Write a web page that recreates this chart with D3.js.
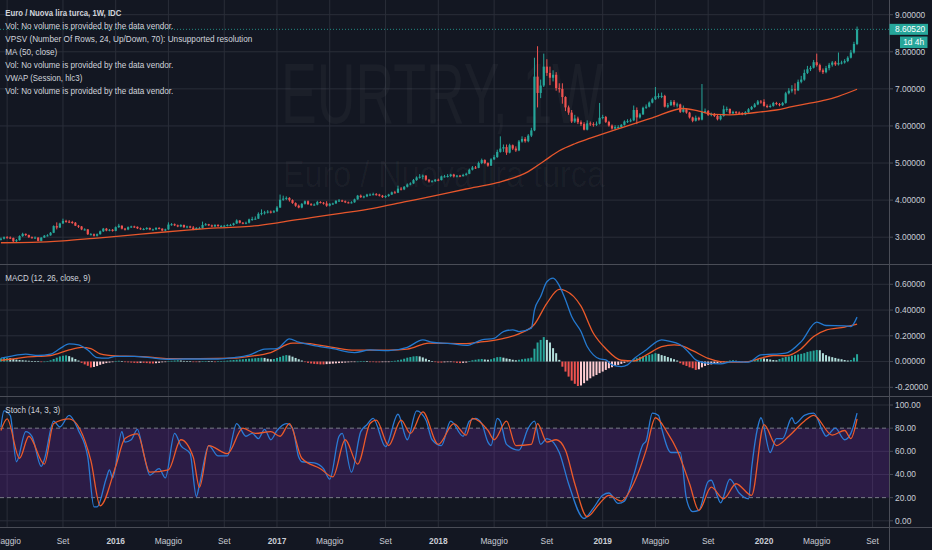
<!DOCTYPE html>
<html><head><meta charset="utf-8">
<script src="https://cdn.jsdelivr.net/npm/d3@7"></script>
<style>html,body{margin:0;padding:0;background:#131722;overflow:hidden}svg{display:block}</style>
</head><body><svg id="chart" width="932" height="550"></svg>
<script>
// ---------------- DATA ----------------
const firstWeek = "2015-04-20";   // Monday of first weekly bar
const firstOpen = 2.93;
const closes = [
// 2015
2.96,3.00,2.99,2.98,2.89,2.92,3.03,3.09,3.06,3.00, 2.99,2.99,2.90,2.99,3.04,3.05,3.12,3.30,3.26,3.37,
3.44,3.42,3.41,3.39,3.31,3.29,3.21,3.21,3.08,3.08, 3.04,3.08,3.16,3.23,3.18,3.20,3.17,
// 2016
3.27,3.31,3.23,3.21,3.27,3.29,3.28,3.24,3.22,3.22, 3.25,3.21,3.21,3.25,3.23,3.18,3.21,3.34,3.35,3.32,
3.29,3.33,3.27,3.29,3.26,3.21,3.25,3.25,3.33,3.35, 3.32,3.29,3.33,3.30,3.30,3.31,3.33,3.33,3.37,3.45,
3.39,3.37,3.39,3.48,3.49,3.50,3.63,3.65,3.67,3.69, 3.67,3.70,
// 2017
3.80,4.01,4.04,4.06,4.00,3.92,3.85,3.80,3.90,3.97, 3.89,3.87,3.88,3.95,3.93,3.91,3.85,3.90,3.91,3.98,
3.99,3.97,3.94,3.93,3.94,4.02,4.12,4.08,4.10,4.15, 4.15,4.16,4.15,4.12,4.08,4.11,4.15,4.21,4.20,4.31,
4.29,4.36,4.42,4.45,4.54,4.61,4.63,4.66,4.55,4.50, 4.51,4.55,
// 2018
4.54,4.64,4.64,4.65,4.69,4.64,4.66,4.65,4.68,4.71, 4.82,4.88,4.87,5.00,5.08,5.00,4.93,5.10,5.16,5.30,
5.39,5.43,5.28,5.48,5.39,5.34,5.58,5.65,5.59,5.74, 5.88,7.33,6.89,7.09,7.60,7.43,7.30,7.38,7.02,7.00,
6.78,6.50,6.36,6.12,6.20,6.10,6.05,5.90,6.07,6.05, 6.04,6.06,
// 2019
6.22,6.24,6.11,6.01,5.93,5.97,5.97,6.03,6.12,6.13, 6.15,6.43,6.23,6.31,6.49,6.52,6.63,6.72,6.80,6.81,
6.81,6.52,6.56,6.65,6.57,6.58,6.38,6.45,6.36,6.23, 6.14,6.22,6.17,6.38,6.40,6.30,6.32,6.27,6.18,6.27,
6.45,6.46,6.34,6.38,6.36,6.35,6.31,6.37,6.45,6.51, 6.58,6.66,6.65,
// 2020
6.54,6.52,6.54,6.62,6.59,6.56,6.62,6.88,6.95,6.99, 6.96,7.19,7.25,7.43,7.53,7.57,7.72,7.64,7.50,7.45,
7.56,7.65,7.71,7.66,7.70,7.71,7.75,7.84,7.98,8.21, 8.6052
];
const highs = [
2.99,3.02,3.03,3.02,2.99,2.95,3.05,3.12,3.10,3.07, 3.02,3.02,3.00,3.00,3.06,3.08,3.14,3.32,3.40,3.39,
3.50,3.47,3.46,3.44,3.41,3.33,3.30,3.24,3.22,3.11, 3.10,3.10,3.18,3.25,3.25,3.22,3.22,
3.29,3.36,3.32,3.25,3.29,3.31,3.31,3.29,3.26,3.25, 3.27,3.26,3.23,3.27,3.27,3.24,3.23,3.40,3.38,3.37,
3.34,3.35,3.34,3.31,3.31,3.30,3.27,3.28,3.42,3.38, 3.36,3.34,3.35,3.35,3.33,3.33,3.35,3.36,3.39,3.48,
3.46,3.41,3.42,3.50,3.55,3.56,3.67,3.75,3.71,3.73, 3.72,3.73,
3.84,4.15,4.12,4.10,4.08,4.02,3.94,3.88,3.92,3.99, 3.99,3.92,3.91,3.98,3.97,3.95,3.97,3.92,3.93,4.00,
4.03,4.01,3.99,3.96,3.97,4.04,4.14,4.15,4.12,4.17, 4.18,4.20,4.19,4.17,4.14,4.13,4.17,4.23,4.25,4.39,
4.35,4.38,4.45,4.48,4.57,4.64,4.70,4.69,4.67,4.57, 4.54,4.57,
4.58,4.66,4.68,4.70,4.71,4.71,4.68,4.68,4.71,4.74, 4.85,4.92,4.92,5.04,5.12,5.10,5.02,5.13,5.22,5.36,
5.72,5.50,5.50,5.52,5.50,5.45,5.62,5.72,5.70,5.78, 5.95,7.84,8.15,7.25,7.95,7.80,7.60,7.50,7.45,7.15,
7.15,6.80,6.55,6.43,6.30,6.25,6.15,6.10,6.15,6.12, 6.10,6.12,
6.62,6.30,6.27,6.14,6.04,6.02,6.02,6.05,6.15,6.18, 6.20,6.55,6.50,6.35,6.52,6.58,6.66,6.76,7.05,6.88,
6.90,6.84,6.62,6.70,6.70,6.63,6.60,6.55,6.48,6.38, 6.25,6.28,6.25,7.13,6.47,6.43,6.36,6.35,6.30,6.32,
6.55,6.52,6.47,6.41,6.40,6.39,6.37,6.40,6.48,6.54, 6.62,6.70,6.70,
6.72,6.58,6.58,6.65,6.65,6.62,6.65,6.92,7.02,7.10, 7.15,7.25,7.35,7.52,7.62,7.62,7.78,7.95,7.68,7.55,
7.62,7.70,7.75,7.75,7.98,7.76,7.80,7.88,8.05,8.27, 8.68
];
const lows = [
2.91,2.94,2.96,2.95,2.87,2.87,2.91,3.01,3.03,2.98, 2.96,2.96,2.89,2.89,2.98,3.02,3.04,3.11,3.21,3.25,
3.36,3.39,3.38,3.36,3.30,3.25,3.19,3.18,3.06,3.05, 3.02,3.02,3.07,3.14,3.16,3.16,3.15,
3.16,3.25,3.21,3.18,3.19,3.25,3.25,3.22,3.20,3.19, 3.20,3.19,3.18,3.19,3.21,3.16,3.16,3.20,3.31,3.30,
3.27,3.27,3.25,3.24,3.24,3.19,3.19,3.22,3.23,3.31, 3.30,3.27,3.27,3.28,3.27,3.28,3.29,3.30,3.31,3.36,
3.37,3.35,3.35,3.37,3.44,3.47,3.49,3.59,3.61,3.64, 3.64,3.65,
3.68,3.79,3.98,4.00,3.96,3.90,3.82,3.78,3.78,3.88, 3.87,3.85,3.85,3.86,3.91,3.88,3.82,3.83,3.87,3.90,
3.95,3.95,3.92,3.91,3.91,3.93,4.01,4.06,4.05,4.08, 4.12,4.13,4.12,4.10,4.06,4.06,4.09,4.14,4.18,4.19,
4.26,4.27,4.34,4.40,4.44,4.52,4.58,4.56,4.52,4.47, 4.48,4.49,
4.51,4.53,4.61,4.61,4.62,4.61,4.61,4.62,4.63,4.66, 4.70,4.80,4.84,4.86,4.97,4.97,4.90,4.92,5.08,5.14,
5.28,5.30,5.22,5.26,5.35,5.30,5.32,5.55,5.55,5.56, 5.70,5.86,6.50,6.75,7.05,7.35,7.10,7.20,6.95,6.90,
6.60,6.40,6.30,6.08,6.08,6.05,6.00,5.88,5.88,6.00, 5.98,6.00,
6.04,6.18,6.08,5.98,5.90,5.90,5.93,5.95,6.01,6.08, 6.10,6.13,6.05,6.20,6.30,6.46,6.50,6.61,6.70,6.74,
6.75,6.50,6.48,6.54,6.52,6.50,6.35,6.36,6.33,6.20, 6.10,6.12,6.14,6.15,6.34,6.27,6.26,6.24,6.15,6.15,
6.25,6.38,6.31,6.32,6.32,6.32,6.29,6.29,6.35,6.43, 6.49,6.56,6.60,
6.52,6.48,6.49,6.52,6.56,6.53,6.54,6.60,6.85,6.90, 6.85,6.94,7.15,7.22,7.40,7.48,7.55,7.60,7.45,7.40,
7.42,7.50,7.60,7.62,7.63,7.66,7.68,7.72,7.82,7.95, 8.18
];
// MA(50): [week index, value]
const maPoints = [[0,2.85],[10,2.86],[20,2.90],[30,2.97],[40,3.04],[50,3.12],[60,3.19],[70,3.25],[80,3.29],
[90,3.40],[100,3.53],[110,3.65],[120,3.78],[130,3.95],[140,4.12],[150,4.30],[160,4.47],[170,4.77],[175,5.05],
[180,5.33],[185,5.52],[190,5.67],[200,5.95],[210,6.22],[220,6.47],[225,6.40],[230,6.31],[235,6.30],[240,6.33],
[245,6.38],[250,6.43],[255,6.52],[260,6.60],[266,6.70],[270,6.80],[276,6.99]];
// MACD (12,26,9)
const macdPoints = [[0,0.026],[3,0.04],[8,0.057],[12,0.047],[16,0.057],[19,0.10],[22,0.137],[25,0.13],[28,0.09],
[31,0.03],[34,0.026],[37,0.04],[43,0.04],[48,0.03],[54,0.018],[59,0.02],[64,0.02],[70,0.02],[75,0.03],[80,0.05],
[85,0.096],[89,0.10],[93,0.176],[96,0.15],[102,0.12],[107,0.10],[114,0.07],[119,0.09],[125,0.085],[131,0.11],
[136,0.168],[139,0.15],[145,0.14],[150,0.125],[155,0.168],[159,0.18],[162,0.233],[165,0.246],[167,0.233],
[171,0.26],[172,0.40],[174,0.505],[176,0.62],[178,0.648],[180,0.59],[182,0.48],[184,0.35],[187,0.233],
[189,0.117],[191,0.052],[193,0.02],[195,0.013],[197,-0.026],[200,-0.039],[202,-0.026],[204,0.02],[208,0.09],
[213,0.168],[215,0.16],[219,0.13],[222,0.065],[224,0.013],[228,-0.013],[232,-0.018],[236,0.0],[241,-0.005],
[245,0.052],[249,0.057],[253,0.065],[258,0.155],[263,0.306],[266,0.28],[272,0.277],[274,0.272],[276,0.345]];
const signalPoints = [[0,0.01],[3,0.018],[8,0.034],[16,0.047],[22,0.09],[26,0.11],[29,0.10],[32,0.06],[37,0.044],
[43,0.04],[48,0.034],[54,0.023],[64,0.023],[75,0.026],[80,0.04],[87,0.07],[94,0.143],[97,0.143],[107,0.11],
[114,0.088],[125,0.088],[131,0.096],[138,0.143],[150,0.14],[154,0.15],[161,0.175],[167,0.215],[172,0.29],
[176,0.452],[180,0.56],[182,0.55],[187,0.43],[191,0.22],[195,0.10],[200,0.01],[204,0.005],[208,0.05],
[213,0.115],[217,0.13],[219,0.125],[223,0.085],[228,0.025],[232,0.0],[236,-0.005],[241,0.0],[245,0.026],
[249,0.047],[253,0.045],[258,0.10],[262,0.195],[266,0.245],[272,0.268],[276,0.29]];
const histValues = [
0.025,0.028,0.03,0.025,0.02,
0.015,0.012,0.01,0.008,0.006,0.004,0.003,0.002,
-0.002,0.0,0.004,
0.01,0.02,0.03,0.04,0.045,0.048,
0.042,0.032,0.02,0.008,
-0.01,-0.022,-0.033,-0.046,-0.042,-0.035,-0.025,-0.018,-0.012,-0.008,
-0.005,0.004,0.006,0.003,-0.002,-0.006,-0.008,-0.01,-0.012,-0.01,-0.01,-0.012,-0.014,
-0.015,-0.013,-0.01,-0.006,-0.003,0.003,0.006,
0.008,0.01,0.008,0.005,
0.003,0.001,-0.002,-0.004,-0.003,0.002,0.004,0.003,0.001,-0.001,0.001,0.003,0.005,0.007,0.01,
0.012,0.014,0.016,0.018,0.02,0.022,0.024,0.026,0.028,0.03,
0.028,0.022,0.018,0.02,
0.028,0.036,0.045,0.05,0.047,
0.038,0.028,0.018,0.008,
-0.004,-0.01,-0.015,-0.018,-0.02,-0.022,-0.022,-0.02,-0.018,-0.016,-0.014,-0.012,-0.01,-0.008,-0.006,
-0.004,-0.002,0.0,0.002,0.003,0.002,
-0.002,-0.004,-0.006,-0.006,-0.005,-0.004,-0.002,0.002,
0.006,0.01,0.015,0.022,0.03,
0.035,0.04,0.042,0.04,
0.032,0.022,0.012,0.004,
-0.004,-0.008,-0.008,-0.006,-0.003,-0.002,-0.006,-0.01,-0.012,-0.01,-0.008,
0.004,0.01,0.014,0.018,0.02,0.016,0.014,0.018,0.026,0.034,0.036,0.03,0.024,0.02,0.014,0.01,0.014,0.018,0.022,0.025,0.03,
0.10,0.148,0.168,0.19,0.168,0.148,0.104,0.065,0.013,-0.04,-0.078,-0.117,-0.148,-0.173,-0.19,-0.186,
-0.168,-0.148,-0.13,-0.115,-0.104,-0.09,-0.078,-0.065,-0.052,-0.044,-0.034,-0.026,-0.018,-0.01,-0.004,0.005,
0.018,0.026,0.034,0.04,0.044,0.052,0.057,0.065,0.06,0.05,0.044,0.035,0.026,0.018,0.008,
-0.013,-0.025,-0.034,-0.045,-0.052,-0.065,-0.06,-0.045,-0.034,-0.026,-0.022,-0.018,-0.012,-0.008,-0.004,
0.004,0.008,0.01,0.006,0.004,-0.003,-0.004,0.004,0.01,0.015,0.02,0.026,0.024,0.02,0.016,0.012,0.01,
0.02,0.03,0.036,0.04,0.045,0.05,0.055,0.06,0.065,0.075,0.08,0.085,0.09,0.088,0.065,0.05,0.04,0.034,0.028,
0.022,0.018,0.012,0.008,0.012,0.03,0.057
];
// Stoch (14,3,3)
const stochKPoints = [[0,81],[1,95],[3,91],[5,51],[8,77],[10,73],[13,47],[14,53],[17,86],[19,81],[22,91],[25,78],
[28,55],[30,12],[31,12],[34,37],[35,44],[36,37],[39,77],[40,68],[42,70],[44,79],[46,58],[48,39.5],[51,45],[53,37],
[56,75.5],[58,65],[61,58],[63,21],[64,31],[67,65],[70,56],[73,56],[76,84],[79,73],[81,75.5],[83,71],[85,79],
[87,70],[89,78],[92,84],[94,80],[96,55],[97,51],[101,50],[104,45],[106,36],[109,73],[110,75.5],[113,42],[116,77],
[118,83],[120,88.5],[124,64],[128,92],[131,70],[134,95],[137,87],[139,70],[142,65],[145,86],[149,73],[151,86],
[153,88.5],[155,84],[157,68],[158,65],[160,88.5],[161,86],[163,66],[167,61],[170,80],[172,86],[174,66],[176,71],
[180,59],[183,32],[188,2],[191,11],[194,22],[196,24],[199,15],[201,17],[204,39.5],[207,66],[208,69],[210,93],
[212,91],[213,80],[216,59],[219,59],[221,19],[223,8],[225,9],[228,34],[229,35],[231,21],[232,15.5],[235,36],
[238,24],[241,19],[242,45],[244,81],[245,89],[248,59],[250,71],[252,71],[255,89],[256,84],[259,91],[262,93],
[265,77],[266,73],[269,80],[272,70],[274,75.5],[276,93]];
const stochDPoints = [[0,78],[2,88],[6,54],[9,73],[14,49],[17,84],[22,88],[29,52],[32,13],[37,47],[40,71],[44,75],
[48,42],[54,44],[58,70],[62,55],[64,29],[67,65],[73,58],[78,80],[82,75.5],[87,77],[90,73],[93,84],[97,54],
[103,45],[107,38],[111,70],[115,49],[119,84],[121,87],[125,65],[129,87],[132,75.5],[136,94],[141,66],[146,84],
[150,74],[152,88.5],[157,78],[159,70],[163,86],[166,65],[171,66],[173,84],[176,68],[179,70],[182,61],[185,32],
[189,3.5],[193,15],[196,22],[200,17],[203,27],[208,61],[211,89],[215,75.5],[218,61],[222,32],[225,9],[229,29],
[233,19],[237,32],[242,22],[246,83],[250,65],[254,73],[259,86],[262,91],[268,74],[272,78],[274,71],[276,88]];
const priceTicks = [3,4,5,6,7,8,9];
const macdTicks = [-0.2,0,0.2,0.4,0.6];
const stochTicks = [0,20,40,60,80,100];
const stochBand = [20,80];
const timeTicks = [["Maggio","2015-05-04"],["Set","2015-09-07"],["2016","2016-01-04"],["Maggio","2016-05-02"],
["Set","2016-09-05"],["2017","2017-01-02"],["Maggio","2017-05-01"],["Set","2017-09-04"],["2018","2018-01-01"],
["Maggio","2018-05-07"],["Set","2018-09-03"],["2019","2019-01-07"],["Maggio","2019-05-06"],["Set","2019-09-02"],
["2020","2020-01-06"],["Maggio","2020-05-04"],["Set","2020-09-07"]];
const legendLines = ["Euro / Nuova lira turca, 1W, IDC","Vol: No volume is provided by the data vendor.",
"VPSV (Number Of Rows, 24, Up/Down, 70): Unsupported resolution","MA (50, close)",
"Vol: No volume is provided by the data vendor.","VWAP (Session, hlc3)","Vol: No volume is provided by the data vendor."];
const macdTitle = "MACD (12, 26, close, 9)";
const stochTitle = "Stoch (14, 3, 3)";
const watermark = ["EURTRY, 1W","Euro / Nuova lira turca"];
const lastPrice = 8.60520;
const countdown = "1d 4h";

// ---------------- DRAW ----------------
const W = 932, H = 550, AX = 889;
const FONT = "'Liberation Sans', Arial, sans-serif";
const UP = "#26a69a", DOWN = "#ef5350", GRID = "#2a2e39", SEP = "#4a4d57", TXT = "#c9ccd4";
const svg = d3.select("#chart");
svg.append("rect").attr("width", W).attr("height", H).attr("fill", "#131722");

const parse = d3.utcParse("%Y-%m-%d");
const t0 = parse(firstWeek).getTime();
const dateOf = i => new Date(t0 + i * 7 * 864e5);
const x = d3.scaleUtc().domain([parse("2016-01-04"), parse("2020-01-06")]).range([115.7, 764]);
const xi = i => x(dateOf(i));
const yP = d3.scaleLinear().domain([3, 9]).range([237.2, 14.7]);
const yM = d3.scaleLinear().domain([-0.2, 0.6]).range([387.3, 284.3]);
const yS = d3.scaleLinear().domain([0, 100]).range([520.8, 405]);

const defs = svg.append("defs");
[["cMain",0,264],["cMacd",265,396],["cStoch",397,527]].forEach(([id,top,bottom]) => {
  defs.append("clipPath").attr("id", id).append("rect").attr("x", 0).attr("y", top).attr("width", AX).attr("height", bottom - top);
});

// vertical grid
svg.append("g").selectAll("line").data(timeTicks).join("line")
  .attr("x1", d => x(parse(d[1]))).attr("x2", d => x(parse(d[1])))
  .attr("y1", 0).attr("y2", 527).attr("stroke", GRID).attr("stroke-width", 1);

// horizontal grids
const hgrid = (ticks, scale) => svg.append("g").selectAll("line").data(ticks).join("line")
  .attr("x1", 0).attr("x2", AX).attr("y1", d => scale(d)).attr("y2", d => scale(d))
  .attr("stroke", GRID).attr("stroke-width", 1);
hgrid(priceTicks, yP);
hgrid(macdTicks, yM);
hgrid(stochTicks.filter(v => !stochBand.includes(v)), yS);

// watermark
const gW = svg.append("g").attr("clip-path", "url(#cMain)");
gW.append("text").text(watermark[0]).attr("x", 281).attr("y", 123).attr("font-family", FONT)
  .attr("font-size", 86).attr("fill", "#ffffff").attr("fill-opacity", 0.035)
  .attr("textLength", 322).attr("lengthAdjust", "spacingAndGlyphs");
gW.append("text").text(watermark[1]).attr("x", 283).attr("y", 187).attr("font-family", FONT)
  .attr("font-size", 37).attr("fill", "#ffffff").attr("fill-opacity", 0.035)
  .attr("textLength", 322).attr("lengthAdjust", "spacingAndGlyphs");

// ---- main pane ----
const gM = svg.append("g").attr("clip-path", "url(#cMain)");
const bars = closes.map((c, i) => ({ i, o: i ? closes[i - 1] : firstOpen, c, h: highs[i], l: lows[i] }));
const col = d => d.c >= d.o ? UP : DOWN;
gM.append("g").selectAll("line").data(bars).join("line")
  .attr("x1", d => xi(d.i)).attr("x2", d => xi(d.i))
  .attr("y1", d => yP(d.h)).attr("y2", d => yP(d.l))
  .attr("stroke", col).attr("stroke-width", 1);
gM.append("g").selectAll("rect").data(bars).join("rect")
  .attr("x", d => xi(d.i) - 1.1).attr("width", 2.2)
  .attr("y", d => yP(Math.max(d.o, d.c)))
  .attr("height", d => Math.max(1, Math.abs(yP(d.o) - yP(d.c))))
  .attr("fill", col);
gM.append("path").datum(maPoints)
  .attr("d", d3.line().x(d => xi(d[0])).y(d => yP(d[1])).curve(d3.curveMonotoneX))
  .attr("fill", "none").attr("stroke", "#e6562c").attr("stroke-width", 1.3);
// last price dotted line
gM.append("line").attr("x1", 0).attr("x2", AX).attr("y1", yP(lastPrice)).attr("y2", yP(lastPrice))
  .attr("stroke", UP).attr("stroke-width", 1).attr("stroke-dasharray", "1,2").attr("opacity", 0.8);

// ---- MACD pane ----
const gC = svg.append("g").attr("clip-path", "url(#cMacd)");
const hb = histValues.map((v, i) => ({ i, v, p: i ? histValues[i - 1] : v }));
gC.append("g").selectAll("rect").data(hb).join("rect")
  .attr("x", d => xi(d.i) - 1).attr("width", 2)
  .attr("y", d => Math.min(yM(d.v), yM(0)))
  .attr("height", d => Math.max(0.6, Math.abs(yM(d.v) - yM(0))))
  .attr("fill", d => d.v >= 0 ? (d.v >= d.p ? UP : "#b2dfdb") : (d.v <= d.p ? DOWN : "#ffcdd2"));
const lineM = d3.line().x(d => xi(d[0])).y(d => yM(d[1])).curve(d3.curveMonotoneX);
gC.append("path").datum(signalPoints).attr("d", lineM).attr("fill", "none").attr("stroke", "#ec5a2a").attr("stroke-width", 1.3);
gC.append("path").datum(macdPoints).attr("d", lineM).attr("fill", "none").attr("stroke", "#2479cf").attr("stroke-width", 1.3);

// ---- Stoch pane ----
const gS = svg.append("g").attr("clip-path", "url(#cStoch)");
gS.append("rect").attr("x", 0).attr("width", AX).attr("y", yS(stochBand[1]))
  .attr("height", yS(stochBand[0]) - yS(stochBand[1])).attr("fill", "rgba(125,45,190,0.24)");
gS.append("g").selectAll("line").data(stochBand).join("line")
  .attr("x1", 0).attr("x2", AX).attr("y1", d => yS(d)).attr("y2", d => yS(d))
  .attr("stroke", "#787b86").attr("stroke-width", 1).attr("stroke-dasharray", "4,3");
const lineS = d3.line().x(d => xi(d[0])).y(d => yS(d[1])).curve(d3.curveMonotoneX);
gS.append("path").datum(stochKPoints).attr("d", lineS).attr("fill", "none").attr("stroke", "#2a7bd5").attr("stroke-width", 1.3);
gS.append("path").datum(stochDPoints).attr("d", lineS).attr("fill", "none").attr("stroke", "#ec5a2a").attr("stroke-width", 1.3);

// ---- separators & axis line ----
[264.5, 396.5, 527.5].forEach(y => svg.append("line").attr("x1", 0).attr("x2", W).attr("y1", y).attr("y2", y)
  .attr("stroke", SEP).attr("stroke-width", 1.2));
svg.append("line").attr("x1", AX + 0.5).attr("x2", AX + 0.5).attr("y1", 0).attr("y2", H).attr("stroke", SEP).attr("stroke-width", 1);

// ---- right axis labels ----
const axisLabels = (ticks, scale, fmt) => {
  const g = svg.append("g");
  g.selectAll("line").data(ticks).join("line").attr("x1", AX).attr("x2", AX + 4)
    .attr("y1", d => scale(d)).attr("y2", d => scale(d)).attr("stroke", SEP);
  g.selectAll("text").data(ticks).join("text").text(fmt)
    .attr("x", 895).attr("y", d => scale(d)).attr("dy", "0.35em")
    .attr("font-family", FONT).attr("font-size", 8.4).attr("fill", TXT);
};
axisLabels(priceTicks, yP, d3.format(".5f"));
axisLabels(macdTicks, yM, d => (d < 0 ? "-" : "") + d3.format(".5f")(Math.abs(d)));
axisLabels(stochTicks, yS, d3.format(".2f"));

// last price tags
const yl = yP(lastPrice);
svg.append("rect").attr("x", AX + 0.5).attr("y", yl - 5.5).attr("width", 38.5).attr("height", 11).attr("fill", UP);
svg.append("text").text(d3.format(".5f")(lastPrice)).attr("x", 895).attr("y", yl).attr("dy", "0.35em")
  .attr("font-family", FONT).attr("font-size", 8.4).attr("fill", "#ffffff");
svg.append("rect").attr("x", 900).attr("y", yl + 7.2).attr("width", 27.5).attr("height", 11.5).attr("fill", UP);
svg.append("text").text(countdown).attr("x", 913.7).attr("y", yl + 13).attr("dy", "0.35em").attr("text-anchor", "middle")
  .attr("font-family", FONT).attr("font-size", 8.4).attr("fill", "#ffffff");

// ---- time axis ----
svg.append("g").selectAll("text").data(timeTicks).join("text").text(d => d[0])
  .attr("x", d => x(parse(d[1]))).attr("y", 541).attr("dy", "0.35em").attr("text-anchor", "middle")
  .attr("font-family", FONT).attr("font-size", 8.4).attr("fill", TXT)
  .attr("font-weight", d => /^\d+$/.test(d[0]) ? 700 : 400);

// ---- legends ----
const legendW = [116, 168, 247, 52, 168, 77, 168];
svg.append("g").selectAll("text").data(legendLines).join("text").text(d => d)
  .attr("x", 5.3).attr("y", (d, i) => 12.7 + i * 13).attr("dy", "0.35em")
  .attr("font-family", FONT).attr("font-size", 9).attr("fill", "#d1d4dc")
  .attr("font-weight", (d, i) => i === 0 ? 700 : 400)
  .attr("textLength", (d, i) => legendW[i]).attr("lengthAdjust", "spacingAndGlyphs");
svg.append("text").text(macdTitle).attr("x", 5.3).attr("y", 277.7).attr("dy", "0.35em")
  .attr("font-family", FONT).attr("font-size", 9).attr("fill", "#d1d4dc")
  .attr("textLength", 85).attr("lengthAdjust", "spacingAndGlyphs");
svg.append("text").text(stochTitle).attr("x", 5.3).attr("y", 410).attr("dy", "0.35em")
  .attr("font-family", FONT).attr("font-size", 9).attr("fill", "#d1d4dc")
  .attr("textLength", 55).attr("lengthAdjust", "spacingAndGlyphs");
</script>
</body></html>
